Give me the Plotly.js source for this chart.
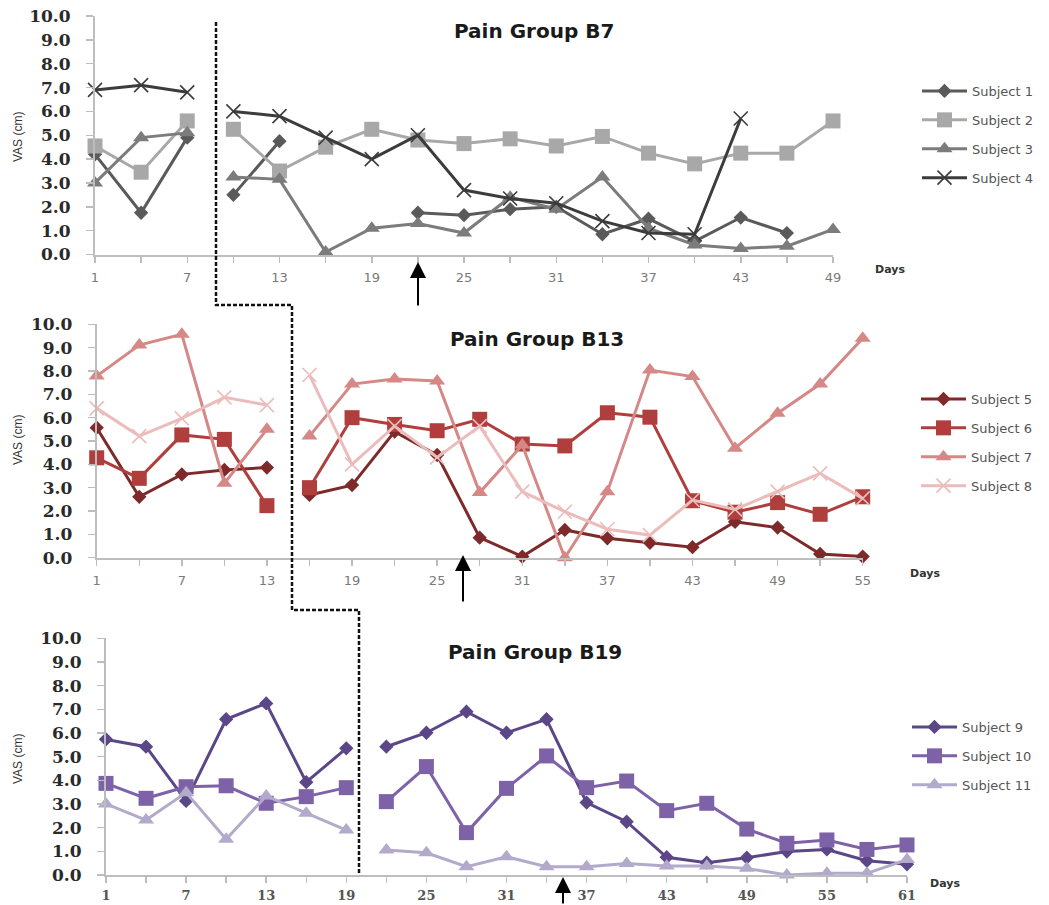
<!DOCTYPE html>
<html><head><meta charset="utf-8">
<script src="https://cdn.plot.ly/plotly-3.0.1.min.js"></script>
<style>html,body{margin:0;padding:0;background:#fff}#chart{width:1049px;height:905px}</style>
</head><body><div id="chart"></div>
<script>
// ---------- DATA ----------
const yTicks = [0,1,2,3,4,5,6,7,8,9,10];

const daysB7 = [1,4,7,10,13,16,19,22,25,28,31,34,37,40,43,46,49];
const breakB7 = 8.5;
const subject1 = [4.2,1.75,4.9,2.5,4.75,null,null,1.75,1.65,1.9,2.0,0.85,1.5,0.55,1.55,0.9,null];
const subject2 = [4.55,3.45,5.6,5.25,3.5,4.5,5.25,4.8,4.65,4.85,4.55,4.95,4.25,3.8,4.25,4.25,5.6];
const subject3 = [3.0,4.9,5.1,3.25,3.15,0.1,1.1,1.3,0.9,2.4,1.9,3.25,1.1,0.4,0.25,0.35,1.05];
const subject4 = [6.9,7.1,6.8,6.0,5.8,4.9,4.0,5.0,2.7,2.35,2.15,1.4,0.9,0.85,5.7,null,null];

const daysB13 = [1,4,7,10,13,16,19,22,25,28,31,34,37,40,43,46,49,52,55];
const breakB13 = 14.5;
const subject5 = [5.57,2.61,3.57,3.76,3.86,2.69,3.11,5.4,4.4,0.86,0.05,1.19,0.83,0.64,0.45,1.54,1.29,0.16,0.05];
const subject6 = [4.28,3.4,5.26,5.07,2.23,3.0,6.0,5.71,5.44,5.93,4.87,4.79,6.21,6.02,2.44,1.95,2.36,1.86,2.61];
const subject7 = [7.78,9.11,9.57,3.19,5.5,5.21,7.44,7.66,7.57,2.79,4.83,0.0,2.83,8.04,7.76,4.69,6.19,7.44,9.4];
const subject8 = [6.4,5.21,5.97,6.87,6.54,7.83,4.0,5.64,4.3,5.64,2.83,1.97,1.22,0.97,2.47,2.07,2.83,3.61,2.54];

const daysB19 = [1,4,7,10,13,16,19,22,25,28,31,34,37,40,43,46,49,52,55,58,61];
const breakB19 = 20.5;
const subject9  = [5.73,5.42,3.13,6.58,7.25,3.92,5.35,5.42,6.01,6.9,6.01,6.58,3.06,2.25,0.75,0.52,0.73,0.99,1.08,0.6,0.45];
const subject10 = [3.87,3.24,3.73,3.77,3.03,3.31,3.69,3.1,4.58,1.79,3.66,5.03,3.69,3.97,2.72,3.03,1.94,1.34,1.48,1.08,1.27];
const subject11 = [3.0,2.32,3.48,1.51,3.34,2.61,1.9,1.06,0.94,0.35,0.77,0.35,0.35,0.49,0.38,0.38,0.28,0.0,0.07,0.07,0.65];

// ---------- LAYOUT HELPERS ----------
const W = 1049, H = 905;
const fx = p => p / W;
const fy = p => 1 - p / H;

const traces = [];
function addSeries(days, vals, brk, name, color, symbol, size, xa, ya, legend) {
  const segs = [{x:[],y:[]},{x:[],y:[]}];
  days.forEach((d,i) => { const s = d < brk ? segs[0] : segs[1]; s.x.push(d); s.y.push(vals[i]); });
  const isX = symbol.indexOf('x') === 0;
  segs.forEach((s,k) => traces.push({
    type:'scatter', mode:'lines+markers', x:s.x, y:s.y, xaxis:xa, yaxis:ya,
    name:name, legendgroup:name, legend:legend, showlegend:k===1,
    line:{color:color, width:3},
    marker:{symbol:symbol, size:size, color:color, line:{color:color, width:isX?1.6:0}},
    cliponaxis:false, connectgaps:false, hoverinfo:'skip'
  }));
}

addSeries(daysB7, subject1, breakB7, 'Subject 1', '#5a5a5a', 'diamond', 11, 'x', 'y', 'legend');
addSeries(daysB7, subject2, breakB7, 'Subject 2', '#a8a8a8', 'square', 15, 'x', 'y', 'legend');
addSeries(daysB7, subject3, breakB7, 'Subject 3', '#7c7c7c', 'triangle-up', 14, 'x', 'y', 'legend');
addSeries(daysB7, subject4, breakB7, 'Subject 4', '#3c3c3c', 'x-thin', 14, 'x', 'y', 'legend');

addSeries(daysB13, subject5, breakB13, 'Subject 5', '#7e2a2a', 'diamond', 11, 'x2', 'y2', 'legend2');
addSeries(daysB13, subject6, breakB13, 'Subject 6', '#b03e3c', 'square', 15, 'x2', 'y2', 'legend2');
addSeries(daysB13, subject7, breakB13, 'Subject 7', '#d58886', 'triangle-up', 14, 'x2', 'y2', 'legend2');
addSeries(daysB13, subject8, breakB13, 'Subject 8', '#ebbcbb', 'x-thin', 14, 'x2', 'y2', 'legend2');

addSeries(daysB19, subject9, breakB19, 'Subject 9', '#5b4788', 'diamond', 11, 'x3', 'y3', 'legend3');
addSeries(daysB19, subject10, breakB19, 'Subject 10', '#7e62a8', 'square', 15, 'x3', 'y3', 'legend3');
addSeries(daysB19, subject11, breakB19, 'Subject 11', '#b3aacb', 'triangle-up', 14, 'x3', 'y3', 'legend3');

const axisCol = '#bdbdbd';
function xAxis(px0, px1, maxDay, anchor, font, standoff) {
  return {domain:[fx(px0), fx(px1)], range:[1, maxDay], anchor:anchor,
    tickmode:'linear', tick0:1, dtick:6, ticks:'outside', ticklen:6, tickwidth:1.5, tickcolor:axisCol,
    minor:{tickmode:'linear', tick0:1, dtick:3, ticks:'outside', ticklen:6, tickwidth:1.5, tickcolor:axisCol, showgrid:false},
    showline:true, linecolor:axisCol, linewidth:2, showgrid:false, zeroline:false,
    tickfont:font, ticklabelstandoff:standoff, fixedrange:true};
}
function yAxis(pyBottom, pyTop, anchor) {
  return {domain:[fy(pyBottom), fy(pyTop)], range:[0,10], anchor:anchor,
    tickmode:'array', tickvals:yTicks, tickformat:'.1f', ticks:'outside', ticklen:7, tickwidth:1.5, tickcolor:axisCol,
    showline:true, linecolor:axisCol, linewidth:2, showgrid:false, zeroline:false,
    tickfont:{family:'DejaVu Serif', size:17, color:'#2a2a2a', weight:'bold'}, ticklabelstandoff:12, fixedrange:true};
}
const xfontLight = {family:'DejaVu Sans', size:13, color:'#7a7a7a'};
const xfontBold = {family:'DejaVu Serif', size:13, color:'#555555', weight:'bold'};

function legendAt(pxLeft, pyTop) {
  return {x:fx(pxLeft), y:fy(pyTop), xanchor:'left', yanchor:'top', bgcolor:'rgba(0,0,0,0)',
    font:{family:'DejaVu Sans', size:13, color:'#555'}, traceorder:'grouped', tracegroupgap:9, itemwidth:45};
}

const titleFont = {family:'DejaVu Sans', size:20, color:'#1a1a1a', weight:'bold'};
const vasFont = {family:'Liberation Sans', size:12, color:'#333'};
const daysFont = {family:'DejaVu Sans', size:11, color:'#333', weight:'bold'};

function label(text, px, py, font, xanchor, angle) {
  return {text:text, x:fx(px), y:fy(py), xref:'paper', yref:'paper', xanchor:xanchor||'center', yanchor:'middle',
    showarrow:false, textangle:angle||0, font:font};
}
const annotations = [
  label('Pain Group B7', 534, 31, titleFont),
  label('Pain Group B13', 537, 339, titleFont),
  label('Pain Group B19', 535, 652, titleFont),
  label('VAS (cm)', 18, 137, vasFont, 'center', -90),
  label('VAS (cm)', 18, 440, vasFont, 'center', -90),
  label('VAS (cm)', 18, 759, vasFont, 'center', -90),
  label('Days', 873, 269, daysFont, 'left'),
  label('Days', 908, 573, daysFont, 'left'),
  label('Days', 928, 883, daysFont, 'left'),
];
[[418,262,45],[463,555,48],[563,877,30]].forEach(a => annotations.push({
  text:'', x:fx(a[0]), y:fy(a[1]), xref:'paper', yref:'paper', showarrow:true, ax:0, ay:a[2],
  arrowhead:2, arrowsize:1.6, arrowwidth:2, arrowcolor:'#000', standoff:0, startstandoff:0}));

const stepPath = [[216,22],[216,305],[292,305],[292,610],[359,610],[359,874]];
const shapes = [{type:'path', xref:'paper', yref:'paper',
  path: stepPath.map((p,i) => (i? 'L':'M') + fx(p[0]) + ',' + fy(p[1])).join(' '),
  line:{color:'#111', width:2.5, dash:'4px,2px'}}];

const layout = {
  width:W, height:H, margin:{l:0,r:0,t:0,b:0}, paper_bgcolor:'#fff', plot_bgcolor:'rgba(0,0,0,0)',
  showlegend:true,
  xaxis: xAxis(95, 833, 49, 'y', xfontLight, 4),
  yaxis: yAxis(254.5, 16, 'x'),
  xaxis2: xAxis(96.7, 862.7, 55, 'y2', xfontLight, 4),
  yaxis2: yAxis(557.7, 324.3, 'x2'),
  xaxis3: xAxis(106, 907, 61, 'y3', xfontBold, 1),
  yaxis3: yAxis(875, 638.3, 'x3'),
  legend: legendAt(917, 76),
  legend2: legendAt(916, 384),
  legend3: legendAt(907, 712),
  annotations: annotations,
  shapes: shapes
};
Plotly.newPlot('chart', traces, layout, {displayModeBar:false, staticPlot:true});
</script></body></html>
